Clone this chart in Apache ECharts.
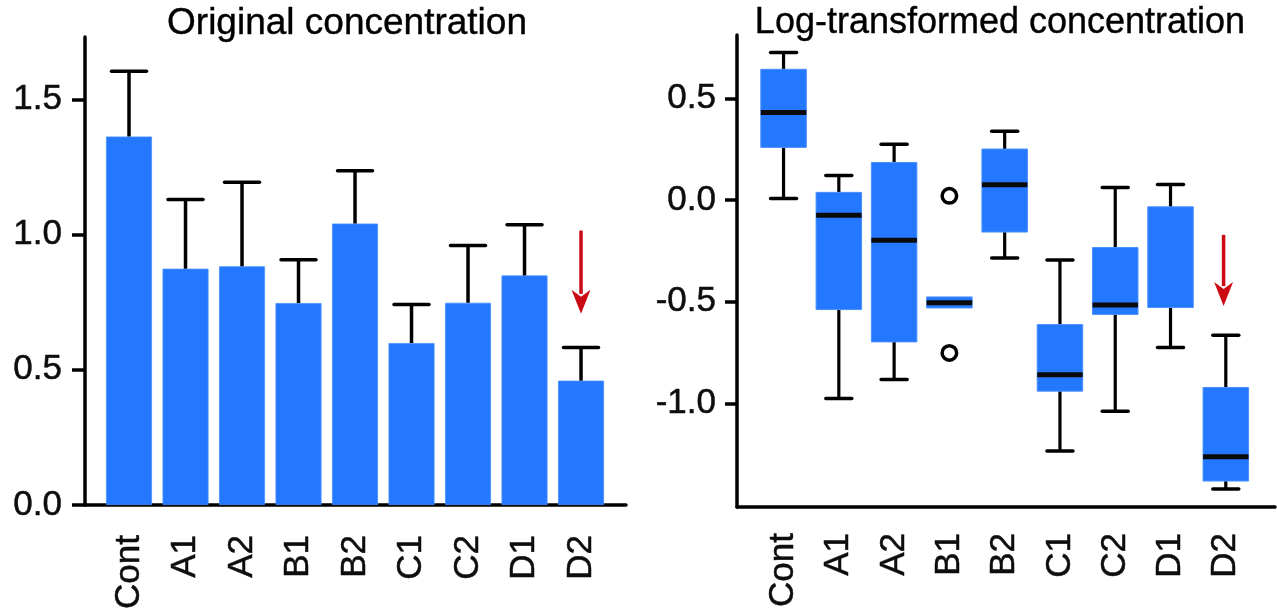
<!DOCTYPE html>
<html>
<head>
<meta charset="utf-8">
<script src="https://cdn.jsdelivr.net/npm/echarts@6/dist/echarts.min.js"></script>
<style>html,body{margin:0;padding:0;background:#fff}#c{width:1277px;height:615px}</style>
</head>
<body>
<div id="c"></div>
<script>
const categories = ['Cont', 'A1', 'A2', 'B1', 'B2', 'C1', 'C2', 'D1', 'D2'];
const yTicksLeft = [0, 0.5, 1.0, 1.5];
const yTicksRight = [-1.0, -0.5, 0.0, 0.5];

// Left panel: original concentration (mean bars with upper error bars)
const barMeans = [1.363, 0.874, 0.883, 0.747, 1.041, 0.599, 0.748, 0.849, 0.460];
const barErrUpper = [1.604, 1.130, 1.194, 0.907, 1.236, 0.742, 0.960, 1.037, 0.583];

// Right panel: log-transformed concentration (boxplots)
const boxWhiskerLow  = [0.008, -0.975, -0.882, -0.530, -0.285, -1.233, -1.038, -0.725, -1.420];
const boxQ1          = [0.259, -0.538, -0.697, -0.530, -0.157, -0.939, -0.562, -0.528, -1.381];
const boxMedian      = [0.431, -0.074, -0.197, -0.505, 0.075, -0.859, -0.516, null, -1.261];
const boxQ3          = [0.643, 0.038, 0.185, -0.476, 0.251, -0.612, -0.233, -0.033, -0.921];
const boxWhiskerHigh = [0.725, 0.121, 0.274, -0.476, 0.338, -0.295, 0.062, 0.077, -0.664];
const outlierCategory = [3, 3];
const outlierValues = [0.021, -0.751];

// Red arrows (category index, start value, tip value)
const arrowCategory = 8;
const arrowLeft = [1.015, 0.707];
const arrowRight = [-0.171, -0.521];

const BLUE = '#2478ff';
const RED = '#cc0a14';
const FONT = 'Liberation Sans, Arial, Helvetica, sans-serif';
const idx = categories.map((c, i) => i);

function fmt(v) { return v.toFixed(1); }

function errRender(params, api) {
  const x = api.value(0), lo = api.value(1), hi = api.value(2);
  const p1 = api.coord([x, lo]), p2 = api.coord([x, hi]);
  return {
    type: 'group', children: [
      { type: 'line', shape: { x1: p1[0], y1: p1[1], x2: p2[0], y2: p2[1] }, style: { stroke: '#000', lineWidth: 3.5 } },
      { type: 'line', shape: { x1: p2[0] - 17.5, y1: p2[1], x2: p2[0] + 17.5, y2: p2[1] }, style: { stroke: '#000', lineWidth: 3.5, lineCap: 'round' } }
    ]
  };
}

function boxRender(params, api) {
  const x = api.value(0);
  const wl = api.value(1), q1 = api.value(2), med = api.value(3), q3 = api.value(4), wh = api.value(5);
  const pq1 = api.coord([x, q1]), pq3 = api.coord([x, q3]);
  const pwl = api.coord([x, wl]), pwh = api.coord([x, wh]);
  const cx = pq1[0], bw = 45.5, cw = 26;
  const ch = [];
  if (wh > q3) {
    ch.push({ type: 'line', shape: { x1: cx, y1: pq3[1], x2: cx, y2: pwh[1] }, style: { stroke: '#000', lineWidth: 3.2 } });
    ch.push({ type: 'line', shape: { x1: cx - cw / 2, y1: pwh[1], x2: cx + cw / 2, y2: pwh[1] }, style: { stroke: '#000', lineWidth: 3.5, lineCap: 'round' } });
  }
  if (wl < q1) {
    ch.push({ type: 'line', shape: { x1: cx, y1: pq1[1], x2: cx, y2: pwl[1] }, style: { stroke: '#000', lineWidth: 3.2 } });
    ch.push({ type: 'line', shape: { x1: cx - cw / 2, y1: pwl[1], x2: cx + cw / 2, y2: pwl[1] }, style: { stroke: '#000', lineWidth: 3.5, lineCap: 'round' } });
  }
  ch.push({ type: 'rect', shape: { x: cx - bw / 2, y: pq3[1], width: bw, height: Math.max(pq1[1] - pq3[1], 1) }, style: { fill: BLUE, stroke: '#4a90ff', lineWidth: 1 } });
  if (!isNaN(med)) {
    const pm = api.coord([x, med]);
    ch.push({ type: 'line', shape: { x1: cx - bw / 2, y1: pm[1], x2: cx + bw / 2, y2: pm[1] }, style: { stroke: '#0a0a0a', lineWidth: 5 } });
  }
  return { type: 'group', children: ch };
}

function arrowRender(params, api) {
  const x = api.value(0), from = api.value(1), to = api.value(2);
  const p1 = api.coord([x, from]), p2 = api.coord([x, to]);
  const headLen = 24, headW = 9.5;
  return {
    type: 'group', children: [
      { type: 'line', shape: { x1: p1[0], y1: p1[1], x2: p2[0], y2: p2[1] - headLen + 4 }, style: { stroke: RED, lineWidth: 3.5 } },
      { type: 'polygon', shape: { points: [[p2[0] - headW, p2[1] - headLen], [p2[0], p2[1] - headLen + 7], [p2[0] + headW, p2[1] - headLen], [p2[0], p2[1]]] }, style: { fill: RED } }
    ]
  };
}

const axisLabelBase = { color: '#0d0d0d', fontSize: 35, fontFamily: FONT, textBorderColor: '#0d0d0d', textBorderWidth: 0.5 };

const chart = echarts.init(document.getElementById('c'), null, { renderer: 'canvas' });
chart.setOption({
  animation: false,
  backgroundColor: '#fff',
  graphic: [
    { type: 'text', x: 347, y: 24, style: { text: 'Original concentration', font: '37px ' + FONT, fill: '#000', stroke: '#000', lineWidth: 0.4, textAlign: 'center', textVerticalAlign: 'middle' } },
    { type: 'text', x: 1000, y: 23, style: { text: 'Log-transformed concentration', font: '36px ' + FONT, fill: '#000', stroke: '#000', lineWidth: 0.4, textAlign: 'center', textVerticalAlign: 'middle' } }
  ],
  grid: [
    { left: 85, top: 37, width: 541, height: 468 },
    { left: 737, top: 35, width: 538, height: 472 }
  ],
  xAxis: [
    {
      gridIndex: 0, type: 'value', min: -0.779, max: 8.796,
      axisLine: { onZero: false, lineStyle: { color: '#000', width: 3.5 } },
      axisTick: { show: false },
      splitLine: { show: false },
      axisLabel: Object.assign({}, axisLabelBase, { customValues: idx, rotate: 90, margin: 30, formatter: v => categories[Math.round(v)] })
    },
    {
      gridIndex: 1, type: 'value', min: -0.842, max: 8.89,
      axisLine: { onZero: false, lineStyle: { color: '#000', width: 3.5 } },
      axisTick: { show: false },
      splitLine: { show: false },
      axisLabel: Object.assign({}, axisLabelBase, { customValues: idx, rotate: 90, margin: 26, formatter: v => categories[Math.round(v)] })
    }
  ],
  yAxis: [
    {
      gridIndex: 0, type: 'value', min: 0, max: 1.731,
      axisLine: { show: true, onZero: false, lineStyle: { color: '#000', width: 3.5 } },
      axisTick: { show: true, customValues: yTicksLeft, length: 13, lineStyle: { color: '#000', width: 3.5 } },
      splitLine: { show: false },
      axisLabel: Object.assign({}, axisLabelBase, { customValues: yTicksLeft, margin: 23, formatter: fmt })
    },
    {
      gridIndex: 1, type: 'value', min: -1.5086, max: 0.8116,
      axisLine: { show: true, onZero: false, lineStyle: { color: '#000', width: 3.5 } },
      axisTick: { show: true, customValues: yTicksRight, length: 12, lineStyle: { color: '#000', width: 3.5 } },
      splitLine: { show: false },
      axisLabel: Object.assign({}, axisLabelBase, { customValues: yTicksRight, margin: 21, formatter: fmt })
    }
  ],
  series: [
    {
      type: 'bar', xAxisIndex: 0, yAxisIndex: 0, barWidth: 46,
      itemStyle: { color: BLUE, borderColor: '#4a90ff', borderWidth: 0.8 },
      data: idx.map(i => [i, barMeans[i]]), z: 2
    },
    {
      type: 'custom', xAxisIndex: 0, yAxisIndex: 0, renderItem: errRender, z: 3,
      data: idx.map(i => [i, barMeans[i], barErrUpper[i]])
    },
    {
      type: 'custom', xAxisIndex: 1, yAxisIndex: 1, renderItem: boxRender, z: 3,
      data: idx.map(i => [i, boxWhiskerLow[i], boxQ1[i], boxMedian[i] === null ? NaN : boxMedian[i], boxQ3[i], boxWhiskerHigh[i]])
    },
    {
      type: 'scatter', xAxisIndex: 1, yAxisIndex: 1, symbol: 'circle', symbolSize: 14.5, z: 4,
      itemStyle: { color: '#fff', borderColor: '#000', borderWidth: 3.5, opacity: 1 },
      data: outlierValues.map((v, k) => [outlierCategory[k], v])
    },
    {
      type: 'custom', xAxisIndex: 0, yAxisIndex: 0, renderItem: arrowRender, z: 5,
      data: [[arrowCategory, arrowLeft[0], arrowLeft[1]]]
    },
    {
      type: 'custom', xAxisIndex: 1, yAxisIndex: 1, renderItem: arrowRender, z: 5,
      data: [[arrowCategory - 0.04, arrowRight[0], arrowRight[1]]]
    }
  ]
});
</script>
</body>
</html>
